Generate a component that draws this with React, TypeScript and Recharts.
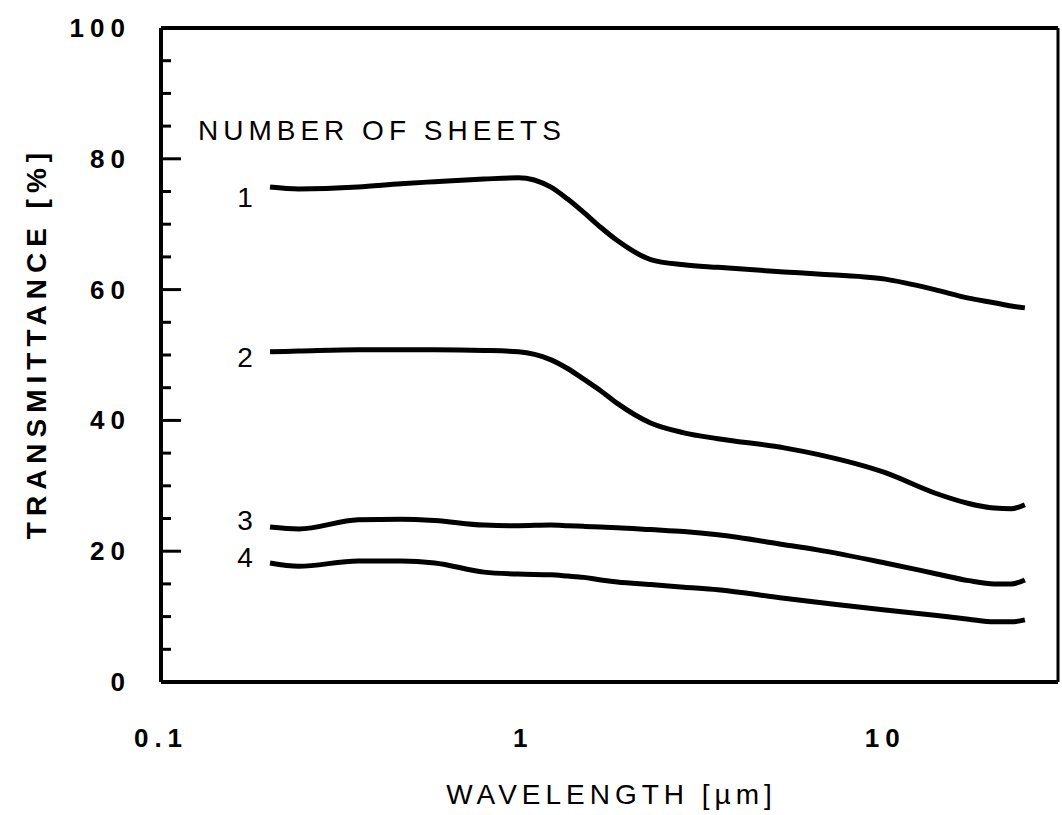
import React from 'react';
import { LineChart, Line, XAxis, YAxis, ReferenceLine } from 'recharts';

// wavelength in micrometres (log axis)
const wavelength = [0.2, 0.24, 0.35, 0.46, 0.57, 0.78, 0.97, 1.19, 1.33, 1.47, 1.64, 1.82, 2.25, 2.78, 3.45, 5.26, 6.5, 10, 13.7, 17, 20, 22.3, 24.3];

// transmittance [%] for 1..4 sheets
const sheet1 = [75.7, 75.4, 75.7, 76.2, 76.5, 76.9, 77.1, 75.7, 73.8, 71.8, 69.5, 67.5, 64.6, 63.8, 63.4, 62.7, 62.4, 61.6, 60.0, 58.7, 58.0, 57.5, 57.2];
const sheet2 = [50.5, 50.6, 50.8, 50.8, 50.8, 50.7, 50.5, 49.3, 47.9, 46.3, 44.5, 42.6, 39.6, 38.1, 37.2, 35.8, 34.8, 32.0, 28.9, 27.3, 26.6, 26.5, 27.1];
const sheet3 = [23.7, 23.4, 24.8, 24.9, 24.7, 24.0, 23.9, 24.0, 23.9, 23.8, 23.7, 23.6, 23.3, 23.0, 22.5, 21.0, 20.2, 18.2, 16.6, 15.5, 15.0, 15.0, 15.6];
const sheet4 = [18.2, 17.7, 18.5, 18.5, 18.2, 16.8, 16.5, 16.4, 16.2, 16.0, 15.6, 15.3, 14.9, 14.5, 14.1, 12.8, 12.2, 11.0, 10.2, 9.6, 9.2, 9.2, 9.5];

const sheetNames = ['1', '2', '3', '4'];
const xTicks = [0.1, 1, 10];
const yTicks = [0, 5, 10, 15, 20, 25, 30, 35, 40, 45, 50, 55, 60, 65, 70, 75, 80, 85, 90, 95, 100];

const data = wavelength.map((wl, i) => ({
  wl,
  s1: sheet1[i],
  s2: sheet2[i],
  s3: sheet3[i],
  s4: sheet4[i],
}));

const FONT = '"Liberation Sans", Arial, sans-serif';

const LeftTick = (props: any) => {
  const { x, y, payload } = props;
  const major = payload.value % 20 === 0;
  return (
    <g>
      <line x1={x} x2={x + (major ? 20 : 10)} y1={y} y2={y} stroke="#000" strokeWidth={3} />
      {major && (
        <text x={x - 30} y={y} textAnchor="end" dominantBaseline="central" fontFamily={FONT} fontWeight="bold" fontSize={26} letterSpacing={6} fill="#000">
          {payload.value}
        </text>
      )}
    </g>
  );
};

const RightTick = (props: any) => {
  const { x, y, payload } = props;
  const major = payload.value % 20 === 0;
  return <line x1={x} x2={x - (major ? 20 : 10)} y1={y} y2={y} stroke="#000" strokeWidth={3} />;
};

const BottomTick = (props: any) => {
  const { x, y, payload } = props;
  return (
    <text x={x} y={y + 56} textAnchor="middle" dominantBaseline="central" fontFamily={FONT} fontWeight="bold" fontSize={26} letterSpacing={6} fill="#000">
      {payload.value}
    </text>
  );
};

const xTitle = (props: any) => {
  const { x, y, width } = props.viewBox;
  return (
    <text x={x + width / 2 + 2} y={y + 112} textAnchor="middle" dominantBaseline="central" fontFamily={FONT} fontSize={28} letterSpacing={5} fill="#000">
      WAVELENGTH [µm]
    </text>
  );
};

const yTitle = (props: any) => {
  const { x, y, height } = props.viewBox;
  const cx = x + 36;
  const cy = y + height / 2 - 12;
  return (
    <text x={cx} y={cy} transform={`rotate(-90, ${cx}, ${cy})`} textAnchor="middle" dominantBaseline="central" fontFamily={FONT} fontWeight="bold" fontSize={28} letterSpacing={6} fill="#000">
      TRANSMITTANCE [%]
    </text>
  );
};

// number next to the start of each curve
const startLabel = (name: string, dy: number) => (p: any) => {
  if (p.index !== 0) return <g key={p.index} />;
  return (
    <text key={p.index} x={p.cx - 25} y={p.cy + dy} textAnchor="middle" dominantBaseline="central" fontFamily={FONT} fontSize={28} fill="#000">
      {name}
    </text>
  );
};

const labelDy = [11, 6, -7, -5];
const keys = ['s1', 's2', 's3', 's4'];

export default function App() {
  return (
    <div style={{ position: 'absolute', left: 0, top: 0, width: 1062, height: 815, background: '#fff' }}>
      <LineChart width={1062} height={815} data={data} margin={{ top: 28, right: 3, left: 0, bottom: 0 }}>
        <XAxis
          dataKey="wl"
          type="number"
          scale="log"
          domain={[0.1, 30]}
          ticks={xTicks}
          height={133}
          tickSize={0}
          tickMargin={0}
          tickLine={false}
          axisLine={{ stroke: '#000', strokeWidth: 4 }}
          tick={<BottomTick />}
          label={xTitle}
        />
        <YAxis
          domain={[0, 100]}
          ticks={yTicks}
          interval={0}
          width={161}
          tickSize={0}
          tickMargin={0}
          tickLine={false}
          axisLine={{ stroke: '#000', strokeWidth: 4 }}
          tick={<LeftTick />}
          label={yTitle}
        />
        <YAxis
          yAxisId="r"
          orientation="right"
          domain={[0, 100]}
          ticks={yTicks}
          interval={0}
          width={1}
          tickSize={0}
          tickMargin={0}
          tickLine={false}
          axisLine={{ stroke: '#000', strokeWidth: 3 }}
          tick={<RightTick />}
        />
        <ReferenceLine y={100} stroke="#000" strokeWidth={4} />
        {keys.map((k, i) => (
          <Line
            key={k}
            dataKey={k}
            type="monotone"
            stroke="#000"
            strokeWidth={5}
            dot={startLabel(sheetNames[i], labelDy[i])}
            activeDot={false}
            isAnimationActive={false}
          />
        ))}
      </LineChart>
      <div
        style={{
          position: 'absolute',
          left: 198,
          top: 116,
          fontFamily: FONT,
          fontSize: 28,
          letterSpacing: 5,
          lineHeight: '30px',
          color: '#000',
          whiteSpace: 'nowrap',
        }}
      >
        NUMBER OF SHEETS
      </div>
    </div>
  );
}
